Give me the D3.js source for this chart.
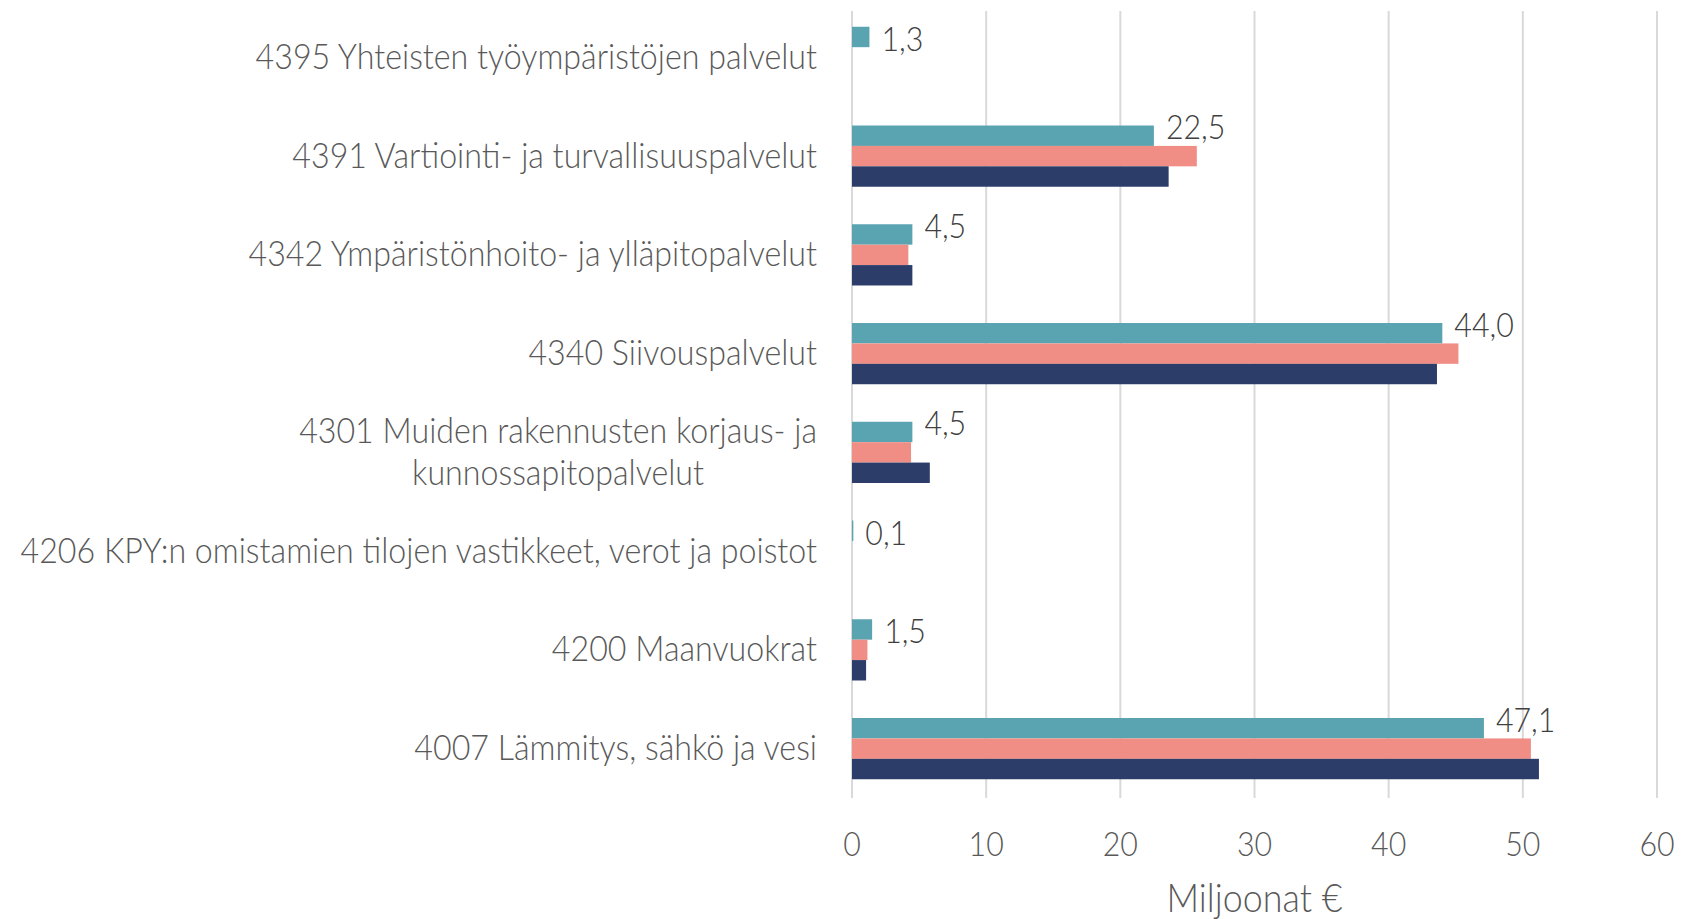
<!DOCTYPE html>
<html>
<head>
    <meta charset="UTF-8">
    <title>Kustannukset</title>
    <script src="https://cdn.jsdelivr.net/npm/d3@7"></script>
    <style>
        body { margin: 0; background: #fff; }
        text { font-family: Lato, "Open Sans", sans-serif; font-weight: 300; fill: #595959; }
    </style>
</head>
<body>
    <script>
        // categories, top to bottom
        var categories = [
            ['4395 Yhteisten työympäristöjen palvelut'],
            ['4391 Vartiointi- ja turvallisuuspalvelut'],
            ['4342 Ympäristönhoito- ja ylläpitopalvelut'],
            ['4340 Siivouspalvelut'],
            ['4301 Muiden rakennusten korjaus- ja', 'kunnossapitopalvelut'],
            ['4206 KPY:n omistamien tilojen vastikkeet, verot ja poistot'],
            ['4200 Maanvuokrat'],
            ['4007 Lämmitys, sähkö ja vesi']
        ]
        var seriesA = [1.3, 22.5, 4.5, 44.0, 4.5, 0.1, 1.5, 47.1]   // teal, labelled
        var seriesB = [null, 25.7, 4.2, 45.2, 4.4, null, 1.15, 50.6]
        var seriesC = [null, 23.6, 4.5, 43.6, 5.8, null, 1.05, 51.2]
        var xTicks = [0, 10, 20, 30, 40, 50, 60]
        var axisTitle = 'Miljoonat €'

        var colors = ['#5AA3B1', '#F08E86', '#2C3D6A']
        var squeeze = 0.92   // narrow the font a bit

        var W = 1681, H = 919
        var plotL = 852, plotR = 1657, plotT = 8, plotB = 798

        var svg = d3.select('body')
            .append('svg')
            .attr('width', W)
            .attr('height', H)

        var x = d3.scaleLinear().domain([0, 60]).range([plotL, plotR])
        var y = d3.scaleBand()
            .domain(d3.range(categories.length))
            .range([plotT, plotB])
            .paddingInner(0.38)
            .paddingOuter(0.19)
        var y1 = d3.scaleBand()
            .domain([0, 1, 2])
            .range([0, y.bandwidth()])

        // gridlines
        svg.append('g')
            .selectAll('line')
            .data(xTicks)
            .enter()
            .append('line')
            .attr('x1', function(d){ return x(d) })
            .attr('x2', function(d){ return x(d) })
            .attr('y1', plotT + 3)
            .attr('y2', plotB)
            .attr('stroke', '#D9D9D9')
            .attr('stroke-width', 2)

        var series = [seriesA, seriesB, seriesC]

        var groups = svg.selectAll('g.cat')
            .data(categories)
            .enter()
            .append('g')
            .attr('class', 'cat')
            .attr('transform', function(d, i){ return 'translate(0,' + y(i) + ')' })

        groups.selectAll('rect')
            .data(function(d, i){
                return series.map(function(s, k){ return { k: k, v: s[i] } })
                    .filter(function(e){ return e.v != null })
            })
            .enter()
            .append('rect')
            .attr('x', x(0))
            .attr('y', function(d){ return y1(d.k) })
            .attr('height', y1.bandwidth())
            .attr('width', function(d){ return Math.max(x(d.v) - x(0), 1) })
            .attr('fill', function(d){ return colors[d.k] })

        // value labels for the first series; lifted a bit when another bar is as long
        groups.append('text')
            .attr('transform', function(d, i){
                var other = d3.max([seriesB[i], seriesC[i]]) || 0
                var dy = other >= seriesA[i] ? -9 : 1.5
                return 'translate(' + (x(seriesA[i]) + 12) + ',' + (y1(0) + y1.bandwidth() / 2 + dy) + ') scale(' + squeeze + ',1)'
            })
            .attr('dominant-baseline', 'central')
            .style('font-size', '33px')
            .style('fill', '#404040')
            .text(function(d, i){ return d3.format('.1f')(seriesA[i]).replace('.', ',') })

        // category labels
        var lab = svg.selectAll('g.lab')
            .data(categories)
            .enter()
            .append('g')
            .attr('class', 'lab')
            .attr('transform', function(d, i){
                return 'translate(817,' + (y(i) + y.bandwidth() / 2 - 2) + ') scale(' + squeeze + ',1)'
            })

        lab.each(function(lines){
            var g = d3.select(this)
            var n = lines.length
            var lh = 42
            var t = g.selectAll('text')
                .data(lines)
                .enter()
                .append('text')
                .attr('y', function(d, j){ return (j - (n - 1) / 2) * lh })
                .attr('dominant-baseline', 'central')
                .style('font-size', '35px')
                .text(function(d){ return d })
            // right-align the block, centre the lines inside it
            var widths = []
            t.each(function(){ widths.push(this.getComputedTextLength()) })
            var maxW = d3.max(widths)
            t.attr('x', function(d, j){ return -maxW + (maxW - widths[j]) / 2 })
        })

        // x tick labels
        svg.append('g')
            .selectAll('text')
            .data(xTicks)
            .enter()
            .append('text')
            .attr('transform', function(d){ return 'translate(' + x(d) + ',844) scale(' + squeeze + ',1)' })
            .attr('text-anchor', 'middle')
            .attr('dominant-baseline', 'central')
            .style('font-size', '33px')
            .text(function(d){ return d })

        svg.append('text')
            .attr('transform', 'translate(' + x(30) + ',897) scale(' + squeeze + ',1)')
            .attr('text-anchor', 'middle')
            .attr('dominant-baseline', 'central')
            .style('font-size', '39px')
            .text(axisTitle)
    </script>
</body>
</html>
